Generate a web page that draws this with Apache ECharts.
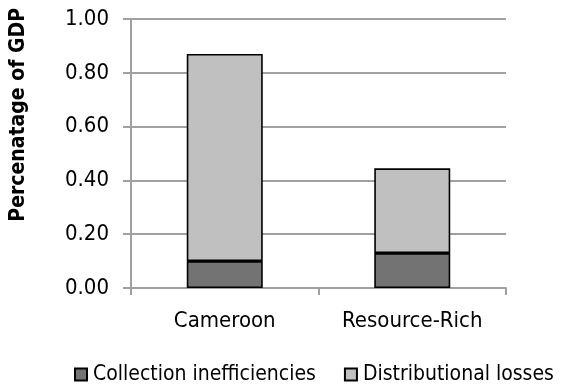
<!DOCTYPE html>
<html>
<head>
<meta charset="utf-8">
<script src="https://cdn.jsdelivr.net/npm/echarts@6/dist/echarts.min.js"></script>
<style>
  html, body { margin: 0; padding: 0; background: #fff; }
  #chart { width: 563px; height: 386px; }
</style>
</head>
<body>
<div id="chart"></div>
<script>
const categories = ['Cameroon', 'Resource-Rich'];
const collection = [0.10, 0.13];
const distributional = [0.77, 0.315];
const yTicks = { min: 0, max: 1, interval: 0.2 };

const font = '"Liberation Sans Narrow", "Arial Narrow", "DejaVu Sans Condensed", sans-serif';
const gray = '#a0a0a0';

const chart = echarts.init(document.getElementById('chart'));
chart.setOption({
  animation: false,
  textStyle: { fontFamily: font, color: '#000' },
  grid: { left: 131, right: 57, top: 19, bottom: 98, containLabel: false },
  legend: {
    top: 359,
    left: 69,
    right: 0,
    itemWidth: 12,
    itemHeight: 12,
    itemGap: 28,
    icon: 'rect',
    textStyle: { fontFamily: font, fontSize: 21, color: '#000', padding: [0, 0, 0, 1] },
    data: ['Collection inefficiencies', 'Distributional losses'],
  },
  xAxis: {
    type: 'category',
    data: categories,
    axisLine: { lineStyle: { color: gray, width: 2 } },
    axisTick: { show: true, length: 7, lineStyle: { color: gray, width: 2 } },
    axisLabel: { fontFamily: font, fontSize: 22, color: '#000', margin: 22 },
  },
  yAxis: {
    type: 'value',
    min: yTicks.min,
    max: yTicks.max,
    interval: yTicks.interval,
    axisLine: { show: true, lineStyle: { color: gray, width: 2 } },
    axisTick: { show: true, length: 8, lineStyle: { color: gray, width: 2 } },
    splitLine: { lineStyle: { color: gray, width: 2 } },
    axisLabel: {
      fontFamily: font, fontSize: 22, color: '#000', margin: 22,
      formatter: (v) => v.toFixed(2),
    },
  },
  graphic: [{
    type: 'text',
    left: 8,
    top: 8,
    rotation: Math.PI / 2,
    style: {
      text: 'Percenatage of GDP',
      fontFamily: font,
      fontSize: 21,
      fontWeight: 'bold',
      fill: '#000',
    },
  }],
  series: [
    {
      name: 'Collection inefficiencies',
      type: 'bar',
      stack: 'total',
      barWidth: 76,
      data: collection,
      itemStyle: { color: '#737373', borderColor: '#000', borderWidth: 1.6 },
    },
    {
      name: 'Distributional losses',
      type: 'bar',
      stack: 'total',
      barWidth: 76,
      data: distributional,
      itemStyle: { color: '#c0c0c0', borderColor: '#000', borderWidth: 1.6 },
    },
  ],
});
</script>
</body>
</html>
